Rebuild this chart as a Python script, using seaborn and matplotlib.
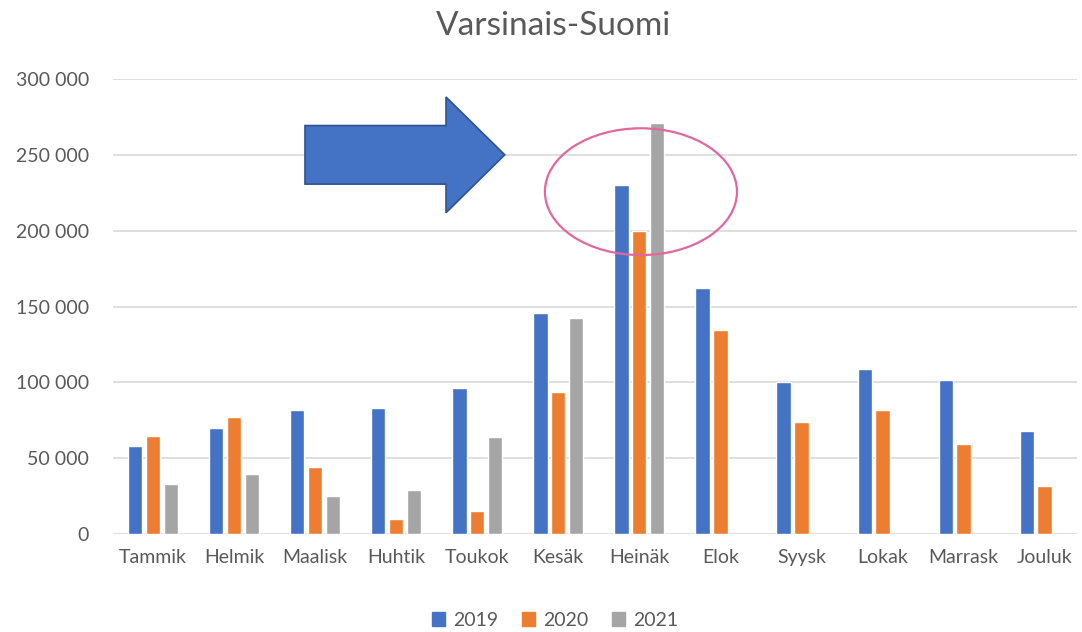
import numpy as np
import pandas as pd
import matplotlib
matplotlib.use("Agg")
import matplotlib.pyplot as plt
import seaborn as sns
from matplotlib.patches import FancyArrow, Ellipse
from matplotlib.ticker import FuncFormatter

# values
months = ["Tammik", "Helmik", "Maalisk", "Huhtik", "Toukok", "Kesäk",
          "Heinäk", "Elok", "Syysk", "Lokak", "Marrask", "Jouluk"]
v2019 = [57700, 69700, 81600, 82900, 96000, 145600, 229800, 162300, 100500, 108600, 101500, 68000]
v2020 = [64700, 77200, 43900, 9900, 15300, 93900, 200000, 134200, 74100, 81600, 59400, 31800]
v2021 = [33100, 39300, 25200, 28700, 63800, 142600, 271300, np.nan, np.nan, np.nan, np.nan, np.nan]
years = ["2019", "2020", "2021"]
colors = ["#4472C4", "#ED7D31", "#A5A5A5"]

df = pd.DataFrame({"Kuukausi": months * 3,
                   "Vuosi": [y for y in years for _ in months],
                   "Arvo": v2019 + v2020 + v2021})

sns.set_style("white")
plt.rcParams['font.family'] = ['Lato', 'DejaVu Sans']
txt = "#595959"

fig = plt.figure(figsize=(10.82, 6.32), dpi=100)
ax = fig.add_axes([112.5 / 1082, (632 - 534) / 632, (1077 - 112.5) / 1082, (534 - 79) / 632])

sns.barplot(data=df, x="Kuukausi", y="Arvo", hue="Vuosi", palette=colors, saturation=1,
            width=0.66, gap=0.2, ax=ax, legend=False, zorder=3)

ax.set_xlim(-0.5, 11.4)
ax.set_ylim(0, 300000)
ax.set_yticks(range(0, 300001, 50000))
ax.yaxis.set_major_formatter(FuncFormatter(lambda v, p: f"{int(v):,}".replace(",", " ")))
ax.grid(axis="y", color="#D9D9D9", linewidth=1.2, zorder=0)
ax.set_xlabel("")
ax.set_ylabel("")
for s in ax.spines.values():
    s.set_visible(False)
ax.tick_params(axis="both", length=0, labelsize=14, colors=txt)
ax.tick_params(axis="y", pad=17)
ax.tick_params(axis="x", pad=11)

fig.text(554 / 1082, (632 - 26) / 632, "Varsinais-Suomi", fontsize=24, color=txt,
         ha="center", va="center")

# the blue arrow and the pink circle
ax.add_patch(FancyArrow(1.875, 250000, 2.465, 0, width=38600, head_width=76300,
                        head_length=0.725, length_includes_head=True,
                        facecolor="#4472C4", edgecolor="#2F528F", linewidth=1.2, zorder=5))
ax.add_patch(Ellipse((6.02, 225700), 2.37, 83600, fill=False,
                     edgecolor="#E2679E", linewidth=1.6, zorder=6))

handles = [plt.Rectangle((0, 0), 1, 1, color=c) for c in colors]
fig.legend(handles, years, loc="center", bbox_to_anchor=(555 / 1082, (632 - 620) / 632),
           ncol=3, frameon=False, fontsize=14, labelcolor=txt,
           handlelength=0.7, handleheight=0.7, handletextpad=0.4, columnspacing=1.2)

fig.savefig("out.png", dpi=100)
